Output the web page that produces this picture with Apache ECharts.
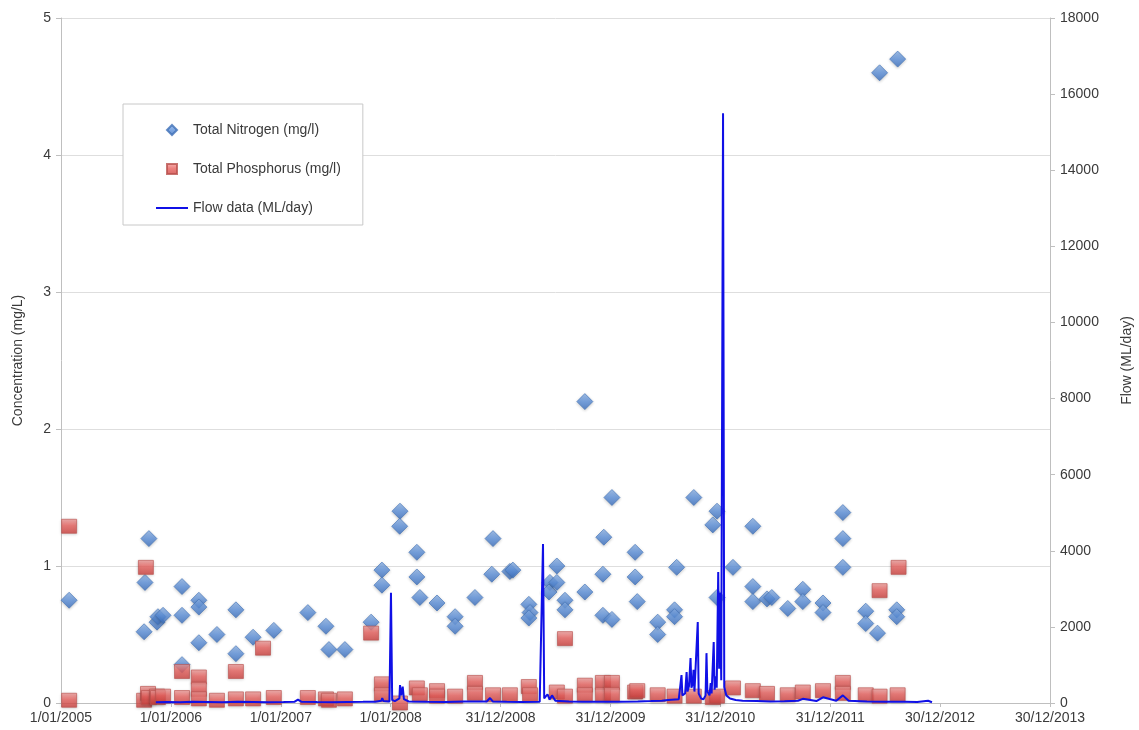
<!DOCTYPE html>
<html>
<head>
<meta charset="utf-8">
<title>Concentration and flow</title>
<script src="https://cdn.jsdelivr.net/npm/echarts/dist/echarts.min.js"></script>
<style>
  html, body { margin: 0; padding: 0; background: #ffffff; }
  #chart { width: 1139px; height: 730px; }
</style>
</head>
<body>
<div id="chart"></div>
<script>
// ---- Sample data ----------------------------------------------------------
// Total Nitrogen samples (mg/l)
const nitrogenDates = [
  '2005-01-28','2005-10-04','2005-10-07','2005-10-20','2005-11-16','2005-11-19','2005-12-06',
  '2006-02-07','2006-02-07','2006-02-07','2006-04-04','2006-04-04','2006-04-04','2006-06-03',
  '2006-08-05','2006-08-05','2006-10-01','2006-12-09','2007-04-01','2007-05-31','2007-06-10',
  '2007-08-02','2007-10-28','2007-12-03','2007-12-03','2008-02-01','2008-01-31','2008-03-28',
  '2008-03-28','2008-04-07','2008-06-03','2008-08-02','2008-08-02','2008-10-07','2008-12-06',
  '2008-12-02','2009-01-31','2009-02-10','2009-04-04','2009-04-08','2009-04-04','2009-06-13',
  '2009-06-10','2009-07-06','2009-07-06','2009-08-02','2009-08-02','2009-10-07','2009-10-07',
  '2010-01-05','2009-12-09','2009-12-06','2009-12-06','2010-01-05','2010-03-23','2010-03-23',
  '2010-03-30','2010-06-06','2010-06-06','2010-08-01','2010-08-01','2010-08-08','2010-10-04',
  '2010-12-20','2010-12-06','2010-12-20','2011-02-11','2011-04-18','2011-04-18','2011-04-18',
  '2011-06-04','2011-06-20','2011-08-12','2011-10-01','2011-10-01','2011-12-07','2011-12-07',
  '2012-02-11','2012-02-11','2012-02-11','2012-04-27','2012-04-27','2012-06-05','2012-06-12',
  '2012-08-11','2012-08-08','2012-08-08'
];
const nitrogenValues = [
  0.75, 0.52, 0.88, 1.20, 0.59, 0.63, 0.64,
  0.85, 0.64, 0.28, 0.75, 0.70, 0.44, 0.50,
  0.68, 0.36, 0.48, 0.53, 0.66, 0.56, 0.39,
  0.39, 0.59, 0.97, 0.86, 1.40, 1.29, 1.10,
  0.92, 0.77, 0.73, 0.63, 0.56, 0.77, 1.20,
  0.94, 0.96, 0.97, 0.72, 0.66, 0.62, 0.88,
  0.81, 1.00, 0.88, 0.75, 0.68, 0.81, 2.20,
  1.50, 1.21, 0.94, 0.64, 0.61, 1.10, 0.92,
  0.74, 0.59, 0.50, 0.68, 0.63, 0.99, 1.50,
  1.40, 1.30, 0.77, 0.99, 1.29, 0.85, 0.74,
  0.76, 0.77, 0.69, 0.83, 0.74, 0.73, 0.66,
  1.39, 1.20, 0.99, 0.67, 0.58, 0.51, 4.60,
  4.70, 0.68, 0.63
];

// Total Phosphorus samples (mg/l)
const phosphorusDates = [
  '2005-01-28','2005-01-28','2005-10-04','2005-10-10','2005-10-17','2005-10-20','2005-11-16',
  '2005-11-19','2005-12-06','2006-02-07','2006-02-07','2006-04-04','2006-04-04','2006-04-04',
  '2006-06-03','2006-08-05','2006-08-05','2006-10-01','2006-11-03','2006-12-09','2007-04-01',
  '2007-05-31','2007-06-10','2007-08-02','2007-10-28','2007-12-03','2007-12-03','2008-02-01',
  '2008-03-28','2008-04-07','2008-06-03','2008-06-03','2008-08-02','2008-10-07','2008-10-07',
  '2008-12-06','2009-01-31','2009-04-04','2009-04-08','2009-07-06','2009-08-02','2009-08-02',
  '2009-10-07','2009-10-07','2009-12-06','2009-12-06','2010-01-05','2010-01-05','2010-03-23',
  '2010-03-30','2010-06-06','2010-08-01','2010-10-04','2010-12-06','2010-12-20','2011-02-11',
  '2011-04-18','2011-06-04','2011-08-12','2011-10-01','2011-12-07','2012-02-11','2012-02-11',
  '2012-04-27','2012-06-12','2012-06-12','2012-08-11','2012-08-14'
];
const phosphorusValues = [
  1.29, 0.02, 0.02, 0.99, 0.07, 0.04, 0.05,
  0.04, 0.05, 0.23, 0.04, 0.19, 0.10, 0.03,
  0.02, 0.23, 0.03, 0.03, 0.40, 0.04, 0.04,
  0.03, 0.02, 0.03, 0.51, 0.14, 0.06, 0.00,
  0.11, 0.06, 0.09, 0.05, 0.05, 0.15, 0.07,
  0.06, 0.06, 0.12, 0.06, 0.08, 0.05, 0.47,
  0.13, 0.06, 0.15, 0.06, 0.15, 0.06, 0.08,
  0.09, 0.06, 0.05, 0.05, 0.04, 0.05, 0.11,
  0.09, 0.07, 0.06, 0.08, 0.09, 0.15, 0.07,
  0.06, 0.05, 0.82, 0.06, 0.99
];

// Flow record (ML/day)
const flowDates = [
  '2005-11-12','2005-12-20','2006-02-01','2006-03-15','2006-05-01','2006-06-20','2006-08-10',
  '2006-10-01','2006-11-20','2007-01-10','2007-02-15','2007-02-27','2007-03-10','2007-05-01',
  '2007-06-20','2007-08-10','2007-10-01','2007-11-10','2007-12-01','2007-12-04','2007-12-08',
  '2007-12-28','2008-01-02','2008-01-06','2008-01-15','2008-01-30','2008-02-01','2008-02-05',
  '2008-02-10','2008-02-14','2008-03-01','2008-05-01','2008-07-01','2008-09-01','2008-11-15',
  '2008-11-26','2008-12-05','2009-01-20','2009-03-10','2009-05-10','2009-05-21','2009-05-25',
  '2009-06-05','2009-06-12','2009-06-20','2009-07-01','2009-08-15','2009-10-01','2009-12-01',
  '2010-02-01','2010-04-01','2010-05-15','2010-06-20','2010-07-10','2010-08-15','2010-08-21',
  '2010-08-24','2010-08-27','2010-09-05','2010-09-10','2010-09-13','2010-09-18','2010-09-23',
  '2010-09-26','2010-09-30','2010-10-03','2010-10-06','2010-10-12','2010-10-17','2010-10-20',
  '2010-10-28','2010-11-05','2010-11-12','2010-11-15','2010-11-18','2010-11-25','2010-11-29',
  '2010-12-02','2010-12-06','2010-12-09','2010-12-12','2010-12-16','2010-12-19','2010-12-24',
  '2010-12-27','2010-12-30','2011-01-03','2011-01-09','2011-01-13','2011-01-20','2011-02-01',
  '2011-02-20','2011-03-15','2011-05-01','2011-06-15','2011-08-01','2011-09-15','2011-10-01',
  '2011-11-15','2011-12-07','2012-01-20','2012-02-11','2012-03-01','2012-05-01','2012-07-01',
  '2012-09-01','2012-10-15','2012-11-20','2012-12-03'
];
const flowValues = [
  20, 25, 20, 30, 25, 20, 30,
  25, 20, 25, 30, 90, 35, 25,
  20, 25, 30, 35, 60, 130, 50,
  40, 2900, 80, 50, 120, 470, 200,
  430, 100, 40, 30, 25, 40, 40,
  130, 40, 30, 25, 35, 4180, 120,
  230, 90, 200, 60, 40, 30, 35,
  30, 40, 50, 60, 80, 100, 150,
  735, 200, 250, 815, 300, 450, 1180,
  400, 500, 870, 300, 250, 2130, 250,
  120, 100, 200, 1310, 300, 200, 520,
  250, 300, 1600, 350, 700, 400, 3440,
  900, 2900, 600, 15500, 420, 200, 120,
  80, 60, 50, 40, 45, 60, 110,
  50, 150, 60, 200, 60, 40, 35,
  30, 25, 60, 20
];

// Date axis ticks: one label every 365 days from 1/01/2005
const axisStart = '2005-01-01';
const tickStepDays = 365;
const tickCount = 9;

// ---- Helpers ----------------------------------------------------------------
const DAY_MS = 86400000;
function utc(s) { const p = s.split('-').map(Number); return Date.UTC(p[0], p[1] - 1, p[2]); }
const ORIGIN = utc(axisStart);
function dayIndex(s) { return Math.round((utc(s) - ORIGIN) / DAY_MS); }
function dayLabel(v) {
  const t = new Date(ORIGIN + v * DAY_MS);
  return t.getUTCDate() + '/' + String(t.getUTCMonth() + 1).padStart(2, '0') + '/' + t.getUTCFullYear();
}
function plainNumber(v) { return String(v); }
function pairs(dates, values) { return dates.map((d, i) => [dayIndex(d), values[i]]); }

function vGrad(stops) {
  return { type: 'linear', x: 0, y: 0, x2: 0, y2: 1,
           colorStops: stops.map(s => ({ offset: s[0], color: s[1] })) };
}

const axisGray = '#bfbfbf';
const textColor = '#3a3a3a';
const fontFamily = '"Liberation Sans", Arial, sans-serif';
const flowBlue = '#1010e6';

// Legend glyphs (path icons keep their aspect inside the legend item box)
const diamondIcon = 'path://M5,0 L10,5 L5,10 L0,5 Z';
const squareIcon = 'path://M0,0 L10,0 L10,10 L0,10 Z';
const lineIcon = 'path://M0,0 L32,0 L32,2 L0,2 Z';

// ---- Chart ----------------------------------------------------------------
const chart = echarts.init(document.getElementById('chart'), null, { renderer: 'canvas' });

chart.setOption({
  animation: false,
  backgroundColor: '#ffffff',
  textStyle: { fontFamily: fontFamily },
  grid: { left: 61, right: 89, top: 18, bottom: 27, containLabel: false, outerBoundsMode: 'none' },
  legend: {
    orient: 'vertical',
    left: 123, top: 104,
    itemWidth: 32, itemHeight: 10, itemGap: 25,
    padding: [19, 22, 10, 33],
    borderColor: '#c8c8c8', borderWidth: 1, backgroundColor: '#ffffff',
    textStyle: { fontSize: 14, color: textColor, fontFamily: fontFamily },
    data: [
      { name: 'Total Nitrogen (mg/l)', icon: diamondIcon },
      { name: 'Total Phosphorus (mg/l)', icon: squareIcon },
      { name: 'Flow data (ML/day)', icon: lineIcon, itemStyle: { color: flowBlue } }
    ]
  },
  xAxis: {
    type: 'value',
    min: 0,
    max: tickStepDays * tickCount,
    interval: tickStepDays,
    axisLine: { show: true, lineStyle: { color: axisGray, width: 1 } },
    axisTick: { show: true, length: 4, lineStyle: { color: axisGray } },
    splitLine: { show: false },
    axisLabel: { formatter: dayLabel, fontSize: 14, color: textColor, margin: 8, fontFamily: fontFamily }
  },
  yAxis: [
    {
      type: 'value', min: 0, max: 5, interval: 1,
      name: 'Concentration (mg/L)', nameLocation: 'middle', nameGap: 36, nameRotate: 90,
      nameTextStyle: { fontSize: 14, color: textColor, fontFamily: fontFamily },
      axisLine: { show: true, lineStyle: { color: axisGray } },
      axisTick: { show: true, length: 5, lineStyle: { color: axisGray } },
      splitLine: { show: true, lineStyle: { color: '#dedede', width: 1 } },
      axisLabel: { fontSize: 14, color: textColor, margin: 10, fontFamily: fontFamily, formatter: plainNumber }
    },
    {
      type: 'value', min: 0, max: 18000, interval: 2000, position: 'right',
      name: 'Flow (ML/day)', nameLocation: 'middle', nameGap: 70, nameRotate: 90,
      nameTextStyle: { fontSize: 14, color: textColor, fontFamily: fontFamily },
      axisLine: { show: true, lineStyle: { color: axisGray } },
      axisTick: { show: true, length: 5, lineStyle: { color: axisGray } },
      splitLine: { show: false },
      axisLabel: { fontSize: 14, color: textColor, margin: 10, fontFamily: fontFamily, formatter: plainNumber }
    }
  ],
  series: [
    {
      name: 'Total Nitrogen (mg/l)',
      type: 'scatter',
      symbol: 'diamond',
      symbolSize: [16, 16],
      itemStyle: {
        color: vGrad([[0, '#94b9ec'], [0.5, '#5d91db'], [1, '#3c70bf']]),
        borderColor: '#3e6fb6', borderWidth: 0.8,
        shadowBlur: 3, shadowColor: 'rgba(0,0,0,0.25)', shadowOffsetY: 1
      },
      data: pairs(nitrogenDates, nitrogenValues)
    },
    {
      name: 'Total Phosphorus (mg/l)',
      type: 'scatter',
      symbol: 'rect',
      symbolSize: [15, 14],
      itemStyle: {
        color: vGrad([[0, '#f6a3a1'], [0.45, '#e8625f'], [1, '#cc403d']]),
        borderColor: '#b9514d', borderWidth: 0.8,
        shadowBlur: 3, shadowColor: 'rgba(0,0,0,0.25)', shadowOffsetY: 1
      },
      data: pairs(phosphorusDates, phosphorusValues)
    },
    {
      name: 'Flow data (ML/day)',
      type: 'line',
      yAxisIndex: 1,
      symbol: 'none',
      showSymbol: false,
      lineStyle: { color: flowBlue, width: 2 },
      itemStyle: { color: flowBlue },
      data: pairs(flowDates, flowValues)
    }
  ]
});
</script>
</body>
</html>
